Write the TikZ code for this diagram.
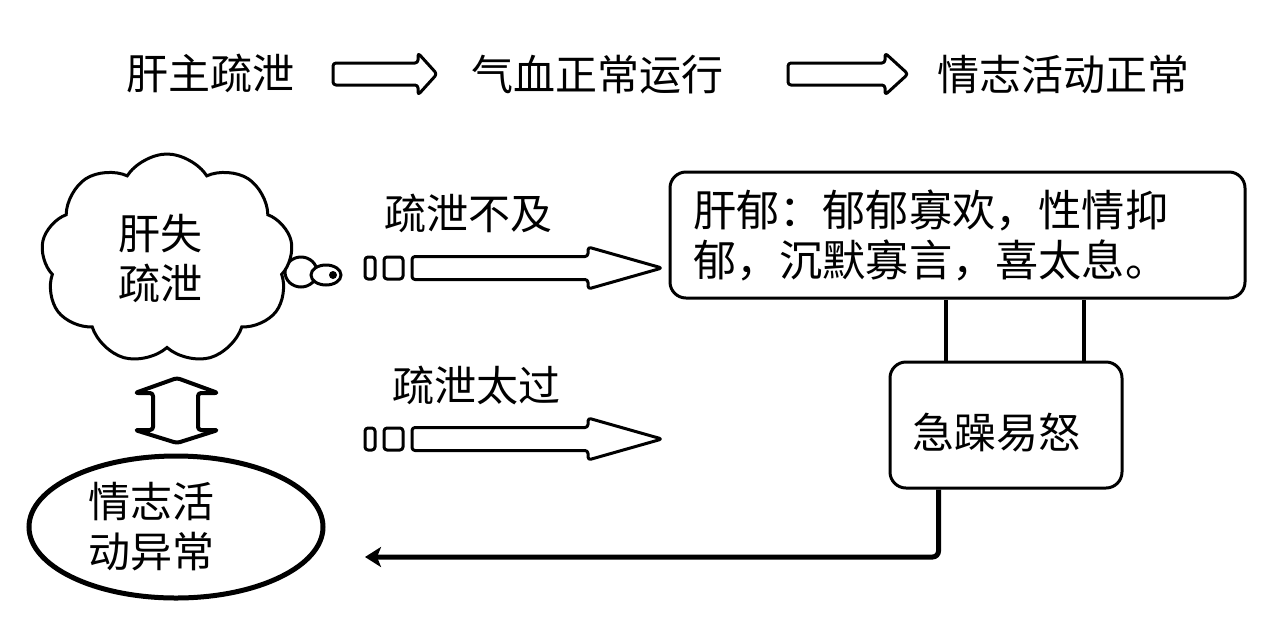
\documentclass[tikz,border=0pt]{standalone}
\usepackage{fontspec}
\newfontfamily\cjk{Noto Sans CJK SC}
\usetikzlibrary{arrows.meta}
\usetikzlibrary{shapes.symbols,shapes.geometric}

% hollow block arrow: left x, tip x, mid y, half body, half head, head length
\newcommand{\fatarrow}[6]{%
\draw[hollow] (#1,#3-#4) -- (#2-#6,#3-#4) -- (#2-#6,#3-#5) -- (#2,#3) -- (#2-#6,#3+#5) -- (#2-#6,#3+#4) -- (#1,#3+#4) -- cycle;
}

\begin{document}
\begin{tikzpicture}[x=0.5pt, y=-0.5pt,
  txt/.style={font=\cjk\fontsize{21}{25}\selectfont, inner sep=0pt},
  hollow/.style={line width=1.5pt, line join=round, rounded corners=1.5pt},
  box/.style={txt, draw, line width=1.5pt, rounded corners=8pt, align=left},
  link/.style={line width=2pt},
  back/.style={line width=2.5pt, rounded corners=3pt, -{Stealth[length=8pt,width=10pt,inset=2pt]}}]
\useasboundingbox (0,0) rectangle (1280,628);

% top line
\node[txt] (gan) at (210,73) {肝主疏泄};
\node[txt] (qixue) at (597,75) {气血正常运行};
\node[txt] (qingzhi) at (1063,75) {情志活动正常};
\fatarrow{333}{437}{74}{11}{21}{19}
\fatarrow{788}{908}{74}{11}{21}{23}

% cloud with bubbles
\draw[line width=1.5pt, fill=white] (301,272) ellipse (16 and 15);
\draw[line width=1.5pt, fill=white] (326,275) ellipse (15 and 10);
\fill (333,275) circle (4);
\node[txt, cloud, draw, fill=white, line width=1.5pt, cloud puffs=9, cloud puff arc=115, aspect=1.2,
  minimum width=126pt, minimum height=105pt, text width=49pt, align=left] (shishu) at (167,259) {肝失\\疏泄};

% two-way arrow
\draw[hollow, line width=2pt] (177,378) -- (218,393) -- (198,393) -- (198,430) -- (218,430) -- (177,443)
  -- (135,430) -- (153,430) -- (153,393) -- (135,393) -- cycle;

\node[txt, ellipse, draw, line width=2.5pt, minimum width=147pt, minimum height=71pt,
  text width=88pt, align=left] (yichang) at (176,527) {情志活\\动异常};

% middle arrows
\node[txt] (buji) at (468,213) {疏泄不及};
\node[txt] (taiguo) at (476,385) {疏泄太过};
\foreach \y in {268,439} {
  \draw[hollow] (365,\y-11) rectangle (375,\y+11);
  \draw[hollow] (384,\y-11) rectangle (403,\y+11);
  \fatarrow{412}{662}{\y}{11.5}{21}{74}
}

% boxes on the right
\node[box, font=\cjk\fontsize{21.6}{25}\selectfont, text width=264.5pt, inner xsep=11.5pt, minimum height=63pt]
  (ganyu) at (957.5,235) {肝郁：郁郁寡欢，性情抑\\郁，沉默寡言，喜太息。};
\node[box, text width=94pt, inner xsep=11pt, minimum height=63pt, text height=26pt, text depth=2.5pt]
  (jizao) at (1006,425) {急躁易怒};

\coordinate (l1) at ([xshift=28.5pt]jizao.north west);
\coordinate (l2) at ([xshift=97.5pt]jizao.north west);
\draw[link] (l1) -- (l1 |- ganyu.south);
\draw[link] (l2) -- (l2 |- ganyu.south);

\coordinate (turn) at ([xshift=25pt]jizao.south west);
\coordinate (backend) at (365,557);
\draw[back] (turn) |- (backend);
\end{tikzpicture}
\end{document}
